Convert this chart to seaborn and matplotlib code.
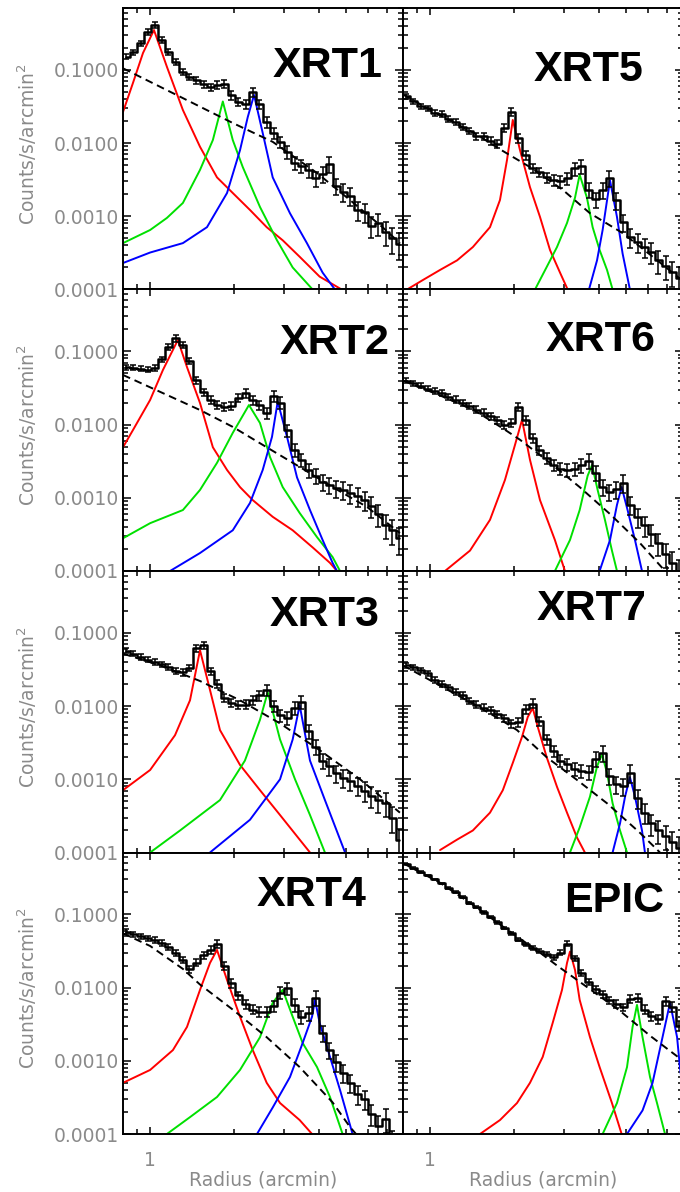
import matplotlib
matplotlib.use("Agg")
import numpy as np
import matplotlib.pyplot as plt
import seaborn as sns
from matplotlib.ticker import FixedLocator, LogLocator, FuncFormatter, NullFormatter

# ---------------------------------------------------------------- data
# radial bin centres shared by every profile (arcmin)
radius = [0.823, 0.872, 0.924, 0.979, 1.037, 1.098, 1.163, 1.232, 1.305, 1.382,
          1.464, 1.551, 1.643, 1.740, 1.843, 1.952, 2.068, 2.191, 2.321, 2.458,
          2.604, 2.758, 2.921, 3.094, 3.278, 3.472, 3.678, 3.896, 4.127, 4.371,
          4.630, 4.904, 5.195, 5.503, 5.829, 6.174, 6.540, 6.928, 7.338, 7.773]

# fractional 1-sigma uncertainty per bin
xrt_frac_err = [0.08, 0.08, 0.08, 0.08, 0.09, 0.09, 0.09, 0.10, 0.10, 0.10,
                0.11, 0.11, 0.12, 0.12, 0.12, 0.13, 0.13, 0.14, 0.14, 0.15,
                0.16, 0.17, 0.18, 0.19, 0.20, 0.21, 0.22, 0.23, 0.24, 0.25,
                0.26, 0.27, 0.28, 0.29, 0.30, 0.32, 0.34, 0.36, 0.38, 0.40]
epic_frac_err = [0.02, 0.02, 0.02, 0.02, 0.02, 0.02, 0.03, 0.03, 0.03, 0.03,
                 0.03, 0.04, 0.04, 0.04, 0.04, 0.05, 0.05, 0.05, 0.06, 0.06,
                 0.07, 0.07, 0.08, 0.08, 0.09, 0.09, 0.10, 0.10, 0.11, 0.11,
                 0.12, 0.12, 0.13, 0.13, 0.14, 0.14, 0.15, 0.15, 0.16, 0.16]

# ---- XRT1
xrt1_counts = [0.151, 0.175, 0.233, 0.33, 0.41, 0.256, 0.175, 0.128, 0.0935, 0.080,
               0.0728, 0.064, 0.058, 0.062, 0.064, 0.045, 0.0364, 0.034, 0.050, 0.034,
               0.0194, 0.0137, 0.0104, 0.0076, 0.00535, 0.0049, 0.0043, 0.0033, 0.0038, 0.0052,
               0.0026, 0.00215, 0.0019, 0.00122, 0.00115, 0.00074, 0.00081, 0.00061, 0.0005, 0.00042]
xrt1_bkg_r = [0.8, 1.279, 1.973, 2.74, 3.945, 5.17, 6.76, 7.8]
xrt1_bkg = [0.105, 0.043, 0.0188, 0.0104, 0.0039, 0.00167, 0.00071, 0.00043]
xrt1_red_r = [0.8, 0.868, 0.943, 1.032, 1.148, 1.309, 1.507, 1.733, 1.973, 2.273, 2.608, 2.975, 3.42, 4.03, 4.83]
xrt1_red = [0.0266, 0.066, 0.17, 0.35, 0.11, 0.0283, 0.0089, 0.0034, 0.00208, 0.00122, 0.00071, 0.00047, 0.00028, 0.00015, 0.0001]
xrt1_green_r = [0.8, 1.0, 1.148, 1.309, 1.507, 1.675, 1.818, 1.973, 2.142, 2.468, 2.838, 3.229, 3.805]
xrt1_green = [0.00043, 0.00065, 0.00095, 0.00152, 0.0043, 0.011, 0.037, 0.011, 0.0047, 0.00134, 0.00047, 0.0002, 0.0001]
xrt1_blue_r = [0.8, 1.0, 1.309, 1.596, 1.882, 2.094, 2.232, 2.35, 2.524, 2.74, 3.158, 3.63, 4.131, 4.57]
xrt1_blue = [0.00023, 0.00032, 0.00043, 0.00071, 0.00208, 0.008, 0.0227, 0.0454, 0.0137, 0.0034, 0.0011, 0.00043, 0.00017, 0.0001]

# ---- XRT2
xrt2_counts = [0.061, 0.060, 0.058, 0.056, 0.060, 0.078, 0.115, 0.150, 0.122, 0.074,
               0.0406, 0.0279, 0.0217, 0.0185, 0.0174, 0.018, 0.0231, 0.027, 0.0217, 0.0185,
               0.0144, 0.0246, 0.0200, 0.0084, 0.0045, 0.0033, 0.0024, 0.0020, 0.00164, 0.0015,
               0.00136, 0.00128, 0.00116, 0.00106, 0.00093, 0.00077, 0.0006, 0.000425, 0.00036, 0.00028]
xrt2_bkg_r = [0.8, 1.148, 1.507, 1.973, 2.608, 3.42, 4.484, 5.95, 7.8]
xrt2_bkg = [0.0476, 0.0254, 0.0158, 0.0093, 0.0049, 0.00264, 0.0014, 0.00075, 0.00033]
xrt2_red_r = [0.8, 0.868, 1.0, 1.111, 1.256, 1.354, 1.507, 1.675, 1.882, 2.094, 2.325, 2.74, 3.229, 3.805, 4.389, 4.648]
xrt2_red = [0.0049, 0.0084, 0.0217, 0.0557, 0.143, 0.061, 0.0197, 0.0049, 0.0024, 0.0014, 0.00093, 0.00055, 0.00036, 0.00021, 0.000129, 0.0001]
xrt2_green_r = [0.8, 1.0, 1.309, 1.507, 1.733, 1.973, 2.254, 2.468, 2.68, 2.975, 3.42, 3.945, 4.484, 4.766]
xrt2_green = [0.00028, 0.00045, 0.00068, 0.00128, 0.003, 0.0077, 0.0185, 0.0105, 0.0036, 0.0014, 0.00062, 0.00029, 0.000155, 0.0001]
xrt2_blue_r = [1.178, 1.507, 1.973, 2.273, 2.524, 2.724, 2.855, 3.082, 3.346, 3.723, 4.131, 4.484, 4.648]
xrt2_blue = [0.0001, 0.000176, 0.00036, 0.00085, 0.0024, 0.0068, 0.0206, 0.0068, 0.0019, 0.00068, 0.000265, 0.000129, 0.0001]

# ---- XRT3
xrt3_counts = [0.057, 0.052, 0.047, 0.043, 0.040, 0.037, 0.034, 0.030, 0.029, 0.033,
               0.062, 0.068, 0.030, 0.020, 0.013, 0.011, 0.0105, 0.0105, 0.012, 0.014,
               0.0165, 0.010, 0.0075, 0.0069, 0.0095, 0.0115, 0.0045, 0.0028, 0.0018, 0.0015,
               0.0012, 0.00105, 0.00095, 0.00082, 0.0007, 0.0006, 0.00052, 0.00048, 0.0003, 0.00015]
xrt3_bkg_r = [0.8, 1.085, 1.507, 2.094, 2.91, 4.03, 5.62, 7.8]
xrt3_bkg = [0.052, 0.036, 0.022, 0.012, 0.0058, 0.0025, 0.0010, 0.00035]
xrt3_red_r = [0.8, 1.0, 1.227, 1.388, 1.507, 1.636, 1.776, 2.094, 2.468, 2.91, 3.42, 3.723]
xrt3_red = [0.00071, 0.00134, 0.004, 0.012, 0.058, 0.0166, 0.0047, 0.00157, 0.00071, 0.000325, 0.00015, 0.0001]
xrt3_green_r = [1.0, 1.279, 1.776, 2.18, 2.468, 2.63, 2.91, 3.292, 3.723, 4.21]
xrt3_green = [0.0001, 0.0002, 0.00052, 0.0018, 0.0065, 0.0155, 0.0035, 0.001, 0.000325, 0.0001]
xrt3_blue_r = [1.636, 2.273, 2.91, 3.229, 3.42, 3.723, 4.21, 4.968]
xrt3_blue = [0.0001, 0.00028, 0.001, 0.0035, 0.0103, 0.0018, 0.00052, 0.0001]

# ---- XRT4
xrt4_counts = [0.058, 0.054, 0.050, 0.047, 0.045, 0.041, 0.036, 0.030, 0.024, 0.0178,
               0.022, 0.028, 0.033, 0.040, 0.020, 0.0115, 0.0078, 0.0060, 0.0050, 0.0047,
               0.0047, 0.0056, 0.0085, 0.0098, 0.0058, 0.0040, 0.0045, 0.0072, 0.0024, 0.0014,
               0.00095, 0.00068, 0.0005, 0.00035, 0.0003, 0.00019, 0.00013, 0.00016, 0.00008, 0.00006]
xrt4_bkg_r = [0.8, 1.0, 1.309, 1.507, 1.973, 2.608, 3.42, 4.484, 5.17, 5.436]
xrt4_bkg = [0.055, 0.037, 0.018, 0.011, 0.005, 0.0021, 0.00082, 0.00027, 0.000125, 0.0001]
xrt4_red_r = [0.8, 1.0, 1.206, 1.354, 1.507, 1.636, 1.733, 1.882, 2.094, 2.325, 2.608, 2.91, 3.42, 3.786]
xrt4_red = [0.0005, 0.00075, 0.0014, 0.0029, 0.0093, 0.0217, 0.0327, 0.0127, 0.004, 0.0014, 0.0005, 0.000265, 0.000155, 0.0001]
xrt4_green_r = [1.148, 1.388, 1.733, 2.094, 2.468, 2.74, 2.975, 3.229, 3.505, 3.945, 4.389, 4.868]
xrt4_green = [0.0001, 0.00017, 0.00032, 0.00075, 0.0021, 0.0062, 0.0093, 0.004, 0.00175, 0.00082, 0.00032, 0.0001]
xrt4_blue_r = [2.408, 2.74, 3.158, 3.505, 3.786, 3.88, 4.03, 4.389, 4.766, 5.284]
xrt4_blue = [0.0001, 0.00023, 0.0006, 0.00175, 0.004, 0.0068, 0.0033, 0.00113, 0.0004, 0.0001]

# ---- XRT5
xrt5_counts = [0.044, 0.0376, 0.032, 0.030, 0.0258, 0.025, 0.0213, 0.0194, 0.0166, 0.0146,
               0.0125, 0.0125, 0.0107, 0.0097, 0.0162, 0.0266, 0.0117, 0.0069, 0.0046, 0.0040,
               0.0034, 0.0031, 0.0030, 0.0033, 0.0045, 0.0048, 0.0023, 0.0017, 0.0023, 0.0033,
               0.00167, 0.00083, 0.00052, 0.00045, 0.00038, 0.000325, 0.00025, 0.00021, 0.000173, 0.000144]
xrt5_bkg_r = [0.8, 1.085, 1.446, 1.818, 2.273, 2.975, 3.723, 4.868, 6.10, 8.0]
xrt5_bkg = [0.046, 0.024, 0.0135, 0.0078, 0.0047, 0.0023, 0.0011, 0.00059, 0.0003, 0.00013]
xrt5_red_r = [0.827, 0.943, 1.085, 1.248, 1.421, 1.636, 1.776, 1.882, 1.973, 2.094, 2.273, 2.468, 2.68, 2.91, 3.099]
xrt5_red = [0.0001, 0.000135, 0.000185, 0.00025, 0.00038, 0.00071, 0.00167, 0.0059, 0.0207, 0.008, 0.0025, 0.00098, 0.000346, 0.00017, 0.0001]
xrt5_green_r = [2.369, 2.608, 2.838, 3.082, 3.292, 3.42, 3.63, 3.805, 4.03, 4.283, 4.484]
xrt5_green = [0.0001, 0.000203, 0.00038, 0.00081, 0.0018, 0.0037, 0.0018, 0.00071, 0.000346, 0.000185, 0.0001]
xrt5_blue_r = [3.693, 3.945, 4.131, 4.389, 4.648, 4.868, 5.17]
xrt5_blue = [0.0001, 0.00025, 0.00065, 0.0031, 0.00098, 0.00031, 0.0001]

# ---- XRT6
xrt6_counts = [0.040, 0.037, 0.034, 0.031, 0.029, 0.027, 0.024, 0.022, 0.020, 0.018,
               0.016, 0.0145, 0.013, 0.0115, 0.0100, 0.0105, 0.0175, 0.0115, 0.0065, 0.0045,
               0.0035, 0.0028, 0.0025, 0.0024, 0.0025, 0.0028, 0.0032, 0.0022, 0.0014, 0.0012,
               0.0013, 0.0016, 0.0008, 0.00055, 0.00042, 0.00032, 0.00024, 0.00017, 0.00013, 0.0001]
xrt6_bkg_r = [0.8, 1.085, 1.446, 1.85, 2.094, 2.68, 3.42, 4.389, 5.62, 6.90]
xrt6_bkg = [0.040, 0.025, 0.0155, 0.0085, 0.0062, 0.0030, 0.0014, 0.0006, 0.00024, 0.0001]
xrt6_red_r = [1.13, 1.388, 1.636, 1.85, 2.01, 2.129, 2.273, 2.468, 2.79, 3.03]
xrt6_red = [0.0001, 0.00019, 0.0005, 0.00175, 0.0053, 0.0116, 0.0033, 0.00093, 0.000265, 0.0001]
xrt6_green_r = [2.79, 3.158, 3.42, 3.652, 3.786, 3.965, 4.21, 4.46, 4.648]
xrt6_green = [0.0001, 0.000265, 0.00068, 0.002, 0.0028, 0.00128, 0.0005, 0.00019, 0.0001]
xrt6_blue_r = [4.03, 4.389, 4.648, 4.83, 5.072, 5.39, 5.71]
xrt6_blue = [0.0001, 0.000265, 0.0008, 0.0014, 0.00068, 0.000265, 0.0001]

# ---- XRT7
xrt7_counts = [0.036, 0.034, 0.031, 0.028, 0.023, 0.020, 0.018, 0.0155, 0.014, 0.0118,
               0.0105, 0.0095, 0.0088, 0.0077, 0.0068, 0.0058, 0.0060, 0.0090, 0.0108, 0.0062,
               0.0035, 0.0024, 0.0018, 0.0016, 0.0014, 0.0013, 0.00125, 0.0019, 0.0023, 0.0011,
               0.00085, 0.0008, 0.00122, 0.00055, 0.00035, 0.00025, 0.0002, 0.00017, 0.00014, 0.000115]
xrt7_bkg_r = [0.8, 1.085, 1.421, 1.776, 2.043, 2.608, 3.346, 4.283, 5.62, 6.62]
xrt7_bkg = [0.036, 0.019, 0.0108, 0.0066, 0.0047, 0.002, 0.00098, 0.00047, 0.000185, 0.0001]
xrt7_red_r = [1.085, 1.248, 1.421, 1.636, 1.818, 1.973, 2.129, 2.232, 2.325, 2.423, 2.608, 2.838, 3.082, 3.346, 3.57]
xrt7_red = [0.000108, 0.00015, 0.0002, 0.00035, 0.00071, 0.00167, 0.0038, 0.0071, 0.0094, 0.0052, 0.002, 0.00079, 0.00035, 0.00016, 0.0001]
xrt7_green_r = [3.158, 3.42, 3.723, 3.945, 4.109, 4.283, 4.484, 4.766, 5.048]
xrt7_green = [0.0001, 0.00022, 0.00058, 0.0015, 0.0022, 0.00122, 0.00047, 0.0002, 0.0001]
xrt7_blue_r = [4.484, 4.766, 4.968, 5.17, 5.39, 5.71, 5.85]
xrt7_blue = [0.0001, 0.00025, 0.00058, 0.00107, 0.00058, 0.0002, 0.0001]

# ---- EPIC
epic_counts = [0.48, 0.43, 0.38, 0.34, 0.30, 0.265, 0.23, 0.20, 0.175, 0.145,
               0.125, 0.107, 0.092, 0.078, 0.065, 0.055, 0.045, 0.039, 0.035, 0.032,
               0.029, 0.026, 0.030, 0.040, 0.025, 0.016, 0.012, 0.0095, 0.0082, 0.0068,
               0.0060, 0.0054, 0.0070, 0.0072, 0.0050, 0.0041, 0.0037, 0.0065, 0.0055, 0.0030]
epic_bkg_r = [0.8, 1.085, 1.421, 1.882, 2.468, 2.838, 3.723, 4.766, 6.10, 8.0]
epic_bkg = [0.50, 0.27, 0.135, 0.062, 0.030, 0.020, 0.0095, 0.0048, 0.0022, 0.0010]
epic_red_r = [1.507, 1.776, 2.043, 2.273, 2.524, 2.74, 2.958, 3.082, 3.158, 3.292, 3.42, 3.723, 4.03, 4.46, 4.83]
epic_red = [0.0001, 0.000155, 0.000265, 0.0005, 0.00113, 0.0033, 0.0093, 0.0217, 0.031, 0.0174, 0.0068, 0.0021, 0.00082, 0.000265, 0.0001]
epic_green_r = [4.131, 4.648, 5.048, 5.284, 5.48, 5.736, 6.10, 6.46, 6.90]
epic_green = [0.0001, 0.000265, 0.00082, 0.0029, 0.0058, 0.0021, 0.0006, 0.000265, 0.0001]
epic_blue_r = [5.048, 5.736, 6.227, 6.76, 7.19, 7.62, 7.80, 8.27]
epic_blue = [0.0001, 0.00021, 0.0005, 0.0021, 0.0062, 0.0021, 0.00082, 0.00015]

# ---------------------------------------------------------------- style
sns.set_theme(style="ticks")
plt.rcParams["font.family"] = ["DejaVu Sans"]
plt.rcParams["mathtext.fontset"] = "dejavusans"

GREY = "#8a8a8a"
RING_COLOURS = ["#ff0000", "#00e000", "#0000ff"]

FIG_W, FIG_H = 680, 1192
fig = plt.figure(figsize=(FIG_W / 100, FIG_H / 100), dpi=100)

COL_X = [123, 403]          # left edge of each column (px)
ROW_TOP = [8, 289.5, 571, 852.5]
PANEL_W, PANEL_H = 280, 281.5

panels = [
    # name, column, row, counts, errors, background, rings, label position
    ("XRT1", 0, 0, xrt1_counts, xrt_frac_err, (xrt1_bkg_r, xrt1_bkg),
     [(xrt1_red_r, xrt1_red), (xrt1_green_r, xrt1_green), (xrt1_blue_r, xrt1_blue)], (0.732, 0.794)),
    ("XRT2", 0, 1, xrt2_counts, xrt_frac_err, (xrt2_bkg_r, xrt2_bkg),
     [(xrt2_red_r, xrt2_red), (xrt2_green_r, xrt2_green), (xrt2_blue_r, xrt2_blue)], (0.757, 0.810)),
    ("XRT3", 0, 2, xrt3_counts, xrt_frac_err, (xrt3_bkg_r, xrt3_bkg),
     [(xrt3_red_r, xrt3_red), (xrt3_green_r, xrt3_green), (xrt3_blue_r, xrt3_blue)], (0.721, 0.844)),
    ("XRT4", 0, 3, xrt4_counts, xrt_frac_err, (xrt4_bkg_r, xrt4_bkg),
     [(xrt4_red_r, xrt4_red), (xrt4_green_r, xrt4_green), (xrt4_blue_r, xrt4_blue)], (0.675, 0.849)),
    ("XRT5", 1, 0, xrt5_counts, xrt_frac_err, (xrt5_bkg_r, xrt5_bkg),
     [(xrt5_red_r, xrt5_red), (xrt5_green_r, xrt5_green), (xrt5_blue_r, xrt5_blue)], (0.664, 0.780)),
    ("XRT6", 1, 1, xrt6_counts, xrt_frac_err, (xrt6_bkg_r, xrt6_bkg),
     [(xrt6_red_r, xrt6_red), (xrt6_green_r, xrt6_green), (xrt6_blue_r, xrt6_blue)], (0.704, 0.821)),
    ("XRT7", 1, 2, xrt7_counts, xrt_frac_err, (xrt7_bkg_r, xrt7_bkg),
     [(xrt7_red_r, xrt7_red), (xrt7_green_r, xrt7_green), (xrt7_blue_r, xrt7_blue)], (0.675, 0.865)),
    ("EPIC", 1, 3, epic_counts, epic_frac_err, (epic_bkg_r, epic_bkg),
     [(epic_red_r, epic_red), (epic_green_r, epic_green), (epic_blue_r, epic_blue)], (0.754, 0.828)),
]


def style_axis(ax, col, row):
    ax.set_xscale("log")
    ax.set_yscale("log")
    ax.set_xlim(0.8, 8.0)
    ax.set_ylim(1e-4, 0.7)
    ax.xaxis.set_major_locator(FixedLocator([1.0]))
    ax.xaxis.set_minor_locator(FixedLocator([0.9, 2, 3, 4, 5, 6, 7, 8]))
    ax.xaxis.set_major_formatter(FuncFormatter(lambda v, p: "1"))
    ax.xaxis.set_minor_formatter(NullFormatter())
    ax.yaxis.set_major_locator(LogLocator(base=10, numticks=10))
    ax.yaxis.set_minor_locator(LogLocator(base=10, subs=np.arange(2, 10), numticks=40))
    ax.yaxis.set_major_formatter(FuncFormatter(lambda v, p: f"{v:.4f}"))
    ax.yaxis.set_minor_formatter(NullFormatter())
    ax.tick_params(which="both", direction="in", top=True, right=True,
                   width=1.1, color="black", labelcolor=GREY, labelsize=13.5)
    ax.tick_params(axis="y", which="major", length=5.8, pad=3)
    ax.tick_params(axis="y", which="minor", length=3.6)
    ax.tick_params(axis="x", which="major", length=5.0, pad=12)
    ax.tick_params(axis="x", which="minor", length=3.6)
    ax.tick_params(labelleft=(col == 0), labelbottom=(row == 3))
    for sp in ax.spines.values():
        sp.set_linewidth(1.4)
        sp.set_color("black")
        sp.set_visible(True)
    ax.set_xlabel("")
    ax.set_ylabel("")
    ax.set_facecolor("white")


for name, col, row, counts, frac, bkg, rings, lab in panels:
    left = COL_X[col] / FIG_W
    bottom = 1 - (ROW_TOP[row] + PANEL_H) / FIG_H
    ax = fig.add_axes([left, bottom, PANEL_W / FIG_W, PANEL_H / FIG_H])

    r = np.array(radius)
    c = np.array(counts)
    err = c * np.array(frac)

    # ring components
    for (rr, vv), colour in zip(rings, RING_COLOURS):
        sns.lineplot(x=rr, y=vv, ax=ax, color=colour, lw=1.4, estimator=None,
                     sort=False, legend=False, zorder=2)
    # smooth cluster/background model
    sns.lineplot(x=bkg[0], y=bkg[1], ax=ax, color="black", lw=1.4,
                 linestyle=(0, (4, 2.5)), estimator=None, sort=False,
                 legend=False, zorder=3)
    # observed profile with errors
    ax.errorbar(r, c, yerr=err, fmt="none", ecolor="black", elinewidth=1.1,
                capsize=2.5, capthick=1.1, zorder=4)
    sns.lineplot(x=radius, y=counts, ax=ax, color="black", lw=1.8,
                 drawstyle="steps-mid", estimator=None, sort=False,
                 legend=False, zorder=5)

    style_axis(ax, col, row)
    ax.text(lab[0], lab[1], name, transform=ax.transAxes, ha="center",
            va="center", fontsize=31, fontweight="bold",
            family=["Liberation Sans", "DejaVu Sans"], color="black", zorder=6)

# shared axis titles
for row in range(4):
    yc = ROW_TOP[row] + PANEL_H / 2 - 5
    fig.text(27 / FIG_W, 1 - yc / FIG_H, "Counts/s/arcmin$^2$", rotation=90,
             ha="center", va="center", color=GREY, fontsize=13.5)
for col in range(2):
    xc = COL_X[col] + PANEL_W / 2
    fig.text(xc / FIG_W, 1 - 1180 / FIG_H, "Radius (arcmin)", ha="center",
             va="center", color=GREY, fontsize=13.5)

fig.savefig("out.png", dpi=100, facecolor="white")
